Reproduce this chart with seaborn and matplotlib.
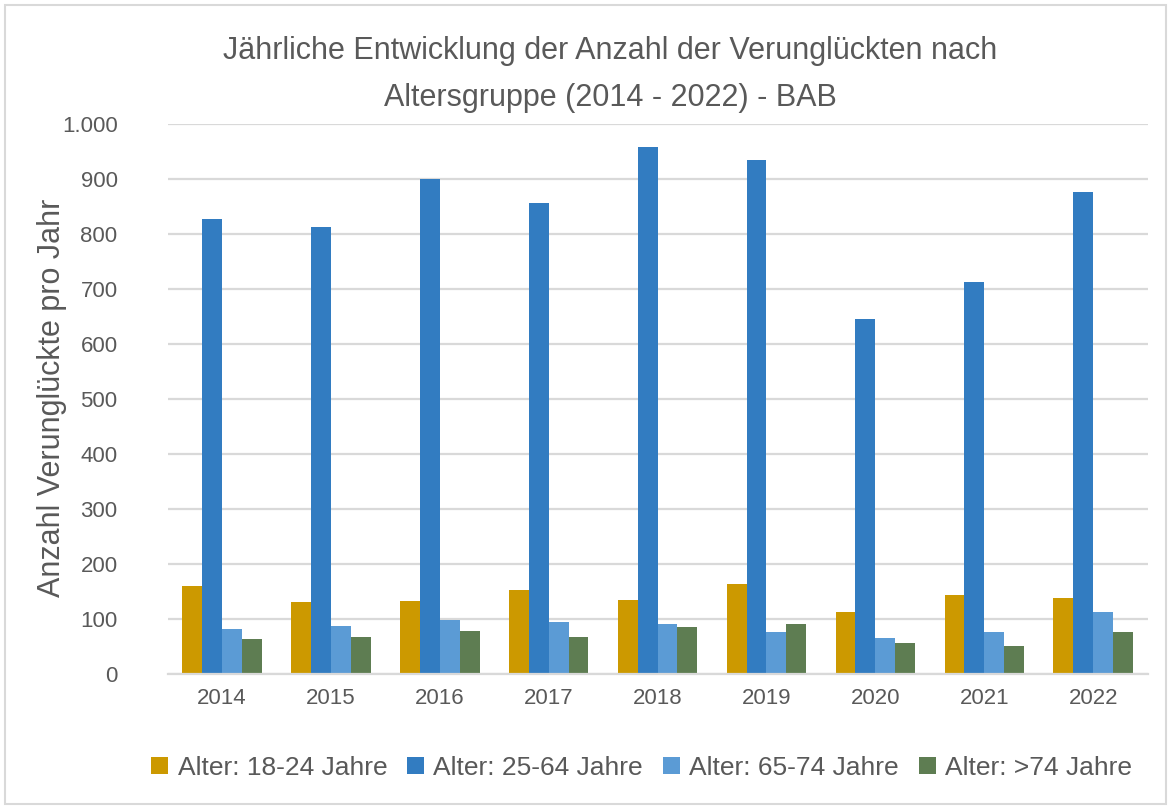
import matplotlib
matplotlib.use("Agg")
import matplotlib.pyplot as plt
from matplotlib.ticker import FuncFormatter, MultipleLocator
from matplotlib.patches import Rectangle
import seaborn as sns
import pandas as pd

# Data: casualties per year by age group
years = ["2014", "2015", "2016", "2017", "2018", "2019", "2020", "2021", "2022"]
age_groups = ["Alter: 18-24 Jahre", "Alter: 25-64 Jahre", "Alter: 65-74 Jahre", "Alter: >74 Jahre"]
age_18_24 = [160, 130, 132, 153, 134, 164, 113, 144, 139]
age_25_64 = [827, 813, 900, 856, 958, 935, 646, 713, 876]
age_65_74 = [81, 88, 98, 95, 90, 77, 65, 77, 113]
age_75_plus = [63, 67, 79, 67, 86, 90, 56, 51, 77]
colors = ["#CC9900", "#327CC1", "#5B9BD5", "#5E7D52"]

series = [age_18_24, age_25_64, age_65_74, age_75_plus]
df = pd.DataFrame(
    [(y, g, v) for g, vals in zip(age_groups, series) for y, v in zip(years, vals)],
    columns=["Jahr", "Altersgruppe", "Anzahl"],
)

sns.set_theme(style="white")
plt.rcParams["font.family"] = ["Liberation Sans", "DejaVu Sans"]
text_color = "#595959"

fig = plt.figure(figsize=(11.71, 8.09), dpi=100)
ax = fig.add_axes([0.1431, 0.1669, 0.8369, 0.6798])

sns.barplot(
    data=df, x="Jahr", y="Anzahl", hue="Altersgruppe",
    hue_order=age_groups, order=years, palette=colors,
    width=0.73, gap=0, dodge=True, ax=ax, legend=True,
    linewidth=0, saturation=1,
)

ax.set_ylim(0, 1000)
ax.set_xlim(-0.5, len(years) - 0.5)
ax.yaxis.set_major_locator(MultipleLocator(100))
ax.yaxis.set_major_formatter(FuncFormatter(lambda v, p: f"{int(v):,}".replace(",", ".")))
ax.grid(axis="y", color="#D9D9D9", linewidth=1.6)
ax.set_axisbelow(True)
for side in ["top", "right", "left"]:
    ax.spines[side].set_visible(False)
ax.spines["bottom"].set_color("#D9D9D9")
ax.spines["bottom"].set_linewidth(1.6)

ax.tick_params(axis="both", length=0, labelsize=16, colors=text_color, pad=10)
ax.tick_params(axis="y", pad=36)
ax.set_xlabel("")
ax.set_ylabel("")

fig.text(0.0445, 0.5087, "Anzahl Verunglückte pro Jahr", rotation=90,
         ha="center", va="center", fontsize=22, color=text_color)

fig.text(0.521, 0.908,
         "Jährliche Entwicklung der Anzahl der Verunglückten nach\nAltersgruppe (2014 - 2022) - BAB",
         ha="center", va="center", fontsize=22, color=text_color, linespacing=1.75)

leg = ax.legend(
    loc="center", bbox_to_anchor=(0.548, 0.051), bbox_transform=fig.transFigure,
    ncol=4, frameon=False, fontsize=19, handlelength=0.65, handleheight=0.65,
    handletextpad=0.35, columnspacing=0.75,
)
for t in leg.get_texts():
    t.set_color(text_color)

# outer chart frame
fig.patches.append(Rectangle((0.004, 0.006), 0.992, 0.988, transform=fig.transFigure,
                             fill=False, edgecolor="#D9D9D9", linewidth=1.5))

fig.savefig("out.png", dpi=100)
